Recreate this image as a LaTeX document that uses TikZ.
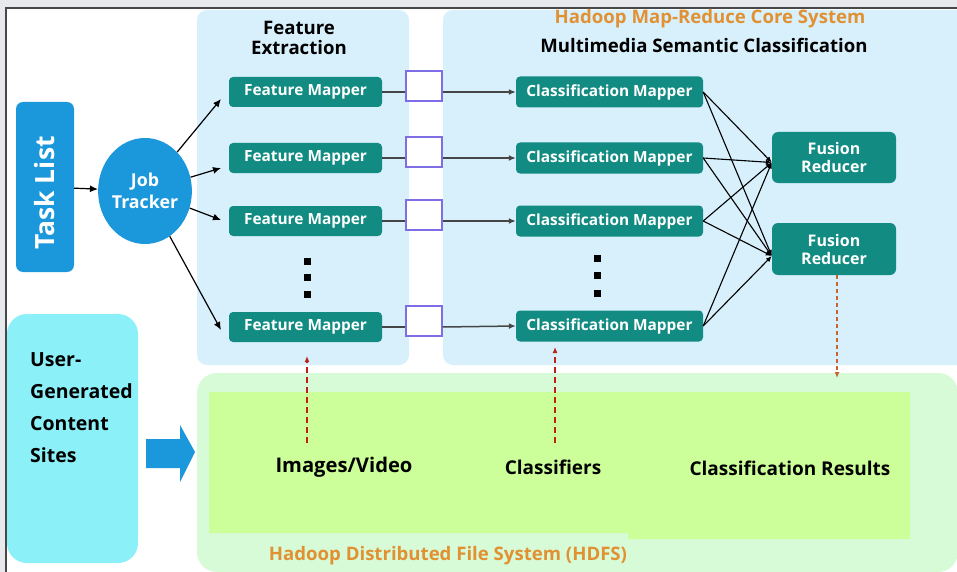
\documentclass[tikz,border=0pt]{standalone}
\usepackage{fontspec}
\setmainfont{Open Sans}[BoldFont={* Bold}]
\usetikzlibrary{arrows.meta,shapes.geometric}
\definecolor{bggray}{RGB}{232,233,236}
\definecolor{framegray}{RGB}{72,72,72}
\definecolor{teal}{RGB}{18,140,130}
\definecolor{tblue}{RGB}{27,152,219}
\definecolor{panelblue}{RGB}{215,240,252}
\definecolor{ucyan}{RGB}{140,240,248}
\definecolor{hdfsout}{RGB}{215,250,215}
\definecolor{hdfsin}{RGB}{204,255,153}
\definecolor{otext}{RGB}{225,145,50}
\definecolor{sqborder}{RGB}{125,110,230}
\definecolor{dred}{RGB}{185,35,20}
\definecolor{dbrown}{RGB}{200,100,50}
\definecolor{linegray}{RGB}{70,70,70}
\tikzset{
  mapperbox/.style={rectangle, rounded corners=4pt, fill=teal, text=white, font=\bfseries\fontsize{15.4}{17}\selectfont, inner sep=0pt},
  fmbox/.style={mapperbox, minimum width=153pt, minimum height=30pt},
  cmbox/.style={mapperbox, minimum width=187pt, minimum height=31pt},
  frbox/.style={mapperbox, rounded corners=6pt, minimum width=124pt, minimum height=51pt, align=center, font=\bfseries\fontsize{16}{18}\selectfont},
  bufbox/.style={rectangle, fill=white, draw=sqborder, line width=1.2pt, minimum width=36pt, minimum height=30pt, inner sep=0pt},
  dotbox/.style={rectangle, fill=black, minimum width=7pt, minimum height=7pt, inner sep=0pt},
  blackarrow/.style={-{Latex[length=8pt,width=7pt]}, line width=1.2pt, black},
  fanarrow/.style={-{Latex[length=6pt,width=5pt]}, line width=1.1pt, black},
  grayline/.style={line width=1.5pt, linegray},
  redarrow/.style={-{Latex[length=6pt,width=5pt]}, line width=1.5pt, dred, dash pattern=on 6pt off 4pt},
  brownarrow/.style={-{Latex[length=6pt,width=5pt]}, line width=1.2pt, dbrown, dash pattern=on 4pt off 3pt},
  titletext/.style={font=\bfseries\fontsize{18.6}{21}\selectfont, inner sep=0pt},
  labeltext/.style={font=\bfseries\fontsize{19}{21}\selectfont, inner sep=0pt},
}
\begin{document}
\begin{tikzpicture}[x=1pt,y=-1pt]
\useasboundingbox (0,0) rectangle (957,572);
% background and frame
\fill[bggray] (0,0) rectangle (957,572);
\fill[white] (6,8) rectangle (957,572);
\draw[framegray, line width=2.2pt] (6,572) -- (6,8) -- (957,8);
% panels
\fill[panelblue, rounded corners=10pt] (197,10) rectangle (409,365);
\fill[panelblue, rounded corners=10pt] (443,10) rectangle (970,365);
\fill[hdfsout, rounded corners=20pt] (197,373) rectangle (958,572);
\fill[hdfsin] (209,392) -- (910,392) -- (910,539) -- (628,539) -- (628,533) -- (209,533) -- cycle;
\fill[ucyan, rounded corners=20pt] (7,314) rectangle (138,563);
% big blue arrow
\fill[tblue] (146,439) -- (180,439) -- (180,425) -- (195,452) -- (180,482) -- (180,468) -- (146,468) -- cycle;

% titles
\node[titletext, align=center] (fetitle) at (299,38) {Feature\\[-1pt]Extraction};
\node[titletext, text=otext] (mrtitle) at (710,19) {Hadoop Map-Reduce Core System};
\node[titletext] (msctitle) at (704,45) {Multimedia Semantic Classification};

% task list and job tracker
\node[rectangle, rounded corners=7pt, fill=tblue, minimum width=170pt, minimum height=58pt, rotate=90, text=white, font=\bfseries\fontsize{26.5}{28}\selectfont, inner sep=0pt] (task) at (45,187) {Task List\hspace*{12pt}};
\node[ellipse, fill=tblue, minimum width=86pt, minimum height=106pt, inner sep=0pt, text=white, align=center, font=\bfseries\fontsize{17.8}{21.5}\selectfont] (jt) at (145,191) {Job\\Tracker};
\draw[blackarrow] (task) -- (jt);

% feature mappers
\node[fmbox] (fm1) at (305.5,92) {Feature Mapper};
\node[fmbox] (fm2) at (305.5,158) {Feature Mapper};
\node[fmbox] (fm3) at (305.5,221) {Feature Mapper};
\node[fmbox] (fm4) at (305.5,327) {Feature Mapper};
\node[dotbox] (fd1) at (307,261) {};
\node[dotbox] (fd2) at (307,277) {};
\node[dotbox] (fd3) at (307,294) {};

\coordinate (t1) at (221,99);
\coordinate (t2) at (221,168);
\coordinate (t3) at (221,220);
\coordinate (t4) at (221,330);
\draw[blackarrow] (jt) -- (t1);
\draw[blackarrow] (jt) -- (t2);
\draw[blackarrow] (jt) -- (t3);
\draw[blackarrow] (jt) -- (t4);

% buffers
\node[bufbox] (sq1) at (424,86) {};
\node[bufbox] (sq2) at (424,152) {};
\node[bufbox] (sq3) at (424,215) {};
\node[bufbox] (sq4) at (424,321) {};

% classification mappers
\node[cmbox] (cm1) at (609.5,92) {Classification Mapper};
\node[cmbox] (cm2) at (609.5,158) {Classification Mapper};
\node[cmbox] (cm3) at (609.5,221) {Classification Mapper};
\node[cmbox] (cm4) at (609.5,326) {Classification Mapper};
\node[dotbox] (cd1) at (597,258) {};
\node[dotbox] (cd2) at (597,275) {};
\node[dotbox] (cd3) at (597,293) {};

\foreach \i in {1,2,3,4}{
  \draw[grayline] (fm\i.east) -- (fm\i.east -| sq\i.west);
  \draw[grayline, -{Latex[length=7pt,width=6pt]}] (fm\i.east -| sq\i.east) -- (cm\i.west);
}

% fusion reducers
\node[frbox] (fr1) at (834,157.5) {Fusion\\Reducer};
\node[frbox, minimum height=52pt] (fr2) at (834,249) {Fusion\\Reducer};
\coordinate (r1) at ([yshift=-5pt]fr1.west);
\coordinate (r2) at ([yshift=-7pt]fr2.west);
\foreach \i in {1,2,3,4}{
  \draw[fanarrow] (cm\i.east) -- (r1);
  \draw[fanarrow] (cm\i.east) -- (r2);
}

% left box text
\node[labeltext, align=left, anchor=north west, font=\bfseries\fontsize{19.5}{32}\selectfont] (ugc) at (30,352) {User-\\Generated\\Content\\Sites};

% HDFS labels
\node[labeltext, font=\bfseries\fontsize{20.2}{22}\selectfont] (img) at (344,467) {Images/Video};
\node[labeltext] (cls) at (553,467) {Classifiers};
\node[labeltext] (res) at (790,468) {Classification Results};
\node[titletext, text=otext] (hdfs) at (448,556) {Hadoop Distributed File System (HDFS)};

\coordinate (ia) at (307,443);
\coordinate (ib) at (307,356);
\coordinate (ca) at (555,443);
\coordinate (cb) at (555,347);
\coordinate (rb) at (837,378);
\draw[redarrow] (ia) -- (ib);
\draw[redarrow] (ca) -- (cb);
\draw[brownarrow] (fr2.south -| rb) -- (rb);
\end{tikzpicture}
\end{document}
